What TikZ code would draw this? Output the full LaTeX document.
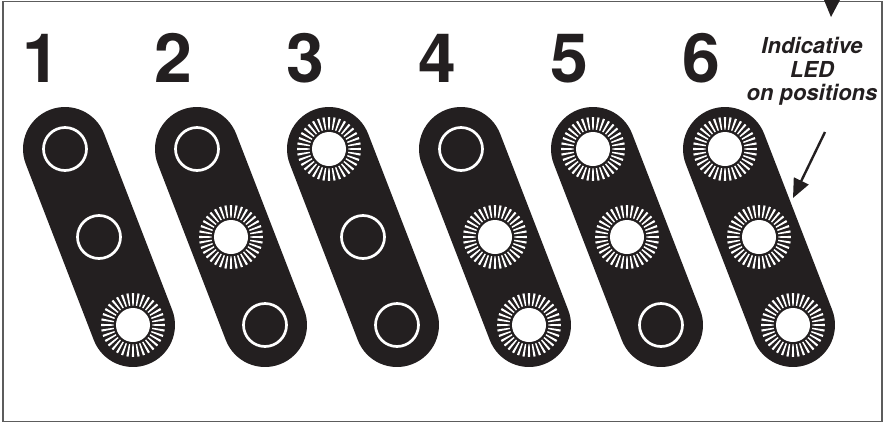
\documentclass[tikz,border=0pt]{standalone}
\usepackage{fontspec}
\setmainfont{TeX Gyre Heros}
\usetikzlibrary{arrows.meta}
\definecolor{ink}  {HTML}{231F20}
\definecolor{frame}{HTML}{5C5C5C}
\tikzset{
  >=Stealth,
  % --- nodes
  ledoff/.style = {circle, draw=white, line width=1.35pt, minimum size=21.5pt,
                   inner sep=0pt},
  ledon/.style  = {circle, fill=white, minimum size=17pt, inner sep=0pt},
  num/.style    = {font=\fontsize{34}{34}\selectfont\bfseries, text=ink,
                   anchor=base},
  note/.style   = {font=\fontsize{11}{11.75}\selectfont\bfseries\itshape,
                   text=ink, align=center, inner sep=0pt},
  % --- edges
  pill/.style   = {line width=42pt, line cap=round, draw=ink},
  ray/.style    = {fill=white},
  pointer/.style= {-{Triangle[length=9.5pt,width=8pt]}, line width=1.2pt, draw=ink},
  box/.style    = {draw=frame, line width=0.75pt},
}
\begin{document}
\begin{tikzpicture}[x=0.5pt,y=-0.5pt]
  \useasboundingbox (0,0) rectangle (890,424);
  \draw[box] (3,1.5) rectangle (882,421.5);

  % pills: number / top / middle / bottom lit
  \foreach \n/\a/\b/\c in {1/0/0/1, 2/0/1/0, 3/1/0/0, 4/0/1/1, 5/1/1/0, 6/1/1/1}{
    \pgfmathsetmacro{\dx}{132*(\n-1)}
    \node[num] (n\n) at (41+\dx,82) {\n};
    \coordinate (p\n a) at (65+\dx,149);
    \coordinate (p\n b) at (99+\dx,237);
    \coordinate (p\n c) at (133+\dx,325);
    \draw[pill] (p\n a) -- (p\n c);
    \foreach \pos/\st in {a/\a, b/\b, c/\c}{
      \ifnum\st=1
        \node[ledon] (l\n\pos) at (p\n\pos) {};
        \foreach \ang in {0,10,...,350}
          \fill[ray] ([shift={(\ang-2:19.5)}]l\n\pos.center)
                  -- ([shift={(\ang+2:19.5)}]l\n\pos.center)
                  -- ([shift={(\ang+2:32)}]l\n\pos.center)
                  -- ([shift={(\ang-2:32)}]l\n\pos.center) -- cycle;
      \else
        \node[ledoff] (l\n\pos) at (p\n\pos) {};
      \fi
    }
  }

  \node[note, anchor=north] (lbl) at (812,37) {Indicative\\LED\\on positions};
  \coordinate (tail) at (825,132);
  \coordinate (tip) at (793,198);
  \draw[pointer] (tail) -- (tip);

  % arrow head coming in from above
  \fill[ink] (824,0) -- (840,0) -- (831,17) -- cycle;
\end{tikzpicture}
\end{document}
